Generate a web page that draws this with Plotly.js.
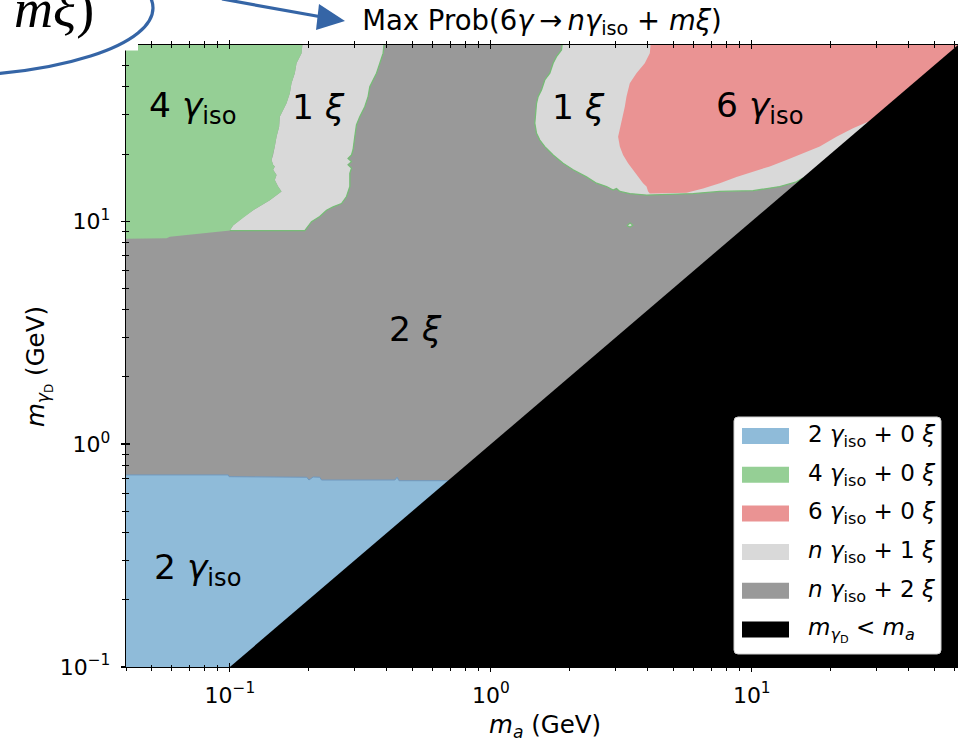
<!DOCTYPE html>
<html>
<head>
<meta charset="utf-8">
<script src="https://cdn.plot.ly/plotly-3.0.1.min.js"></script>
<style>
  html, body { margin: 0; padding: 0; background: #ffffff; }
  #chart { width: 958px; height: 741px; }
</style>
</head>
<body>
<div id="chart"></div>
<script>
// Phase map of the most probable outcome of 6γ → nγ_iso + mξ
// in the (m_a, m_γD) plane, both in GeV.

// Category names and fill colours
const categories = ["2γiso+0ξ", "4γiso+0ξ", "6γiso+0ξ", "nγiso+1ξ", "nγiso+2ξ", "mγD<ma"];
const legendLabels = [
  "2 <i>γ</i><sub>iso</sub> + 0 <i>ξ</i>",
  "4 <i>γ</i><sub>iso</sub> + 0 <i>ξ</i>",
  "6 <i>γ</i><sub>iso</sub> + 0 <i>ξ</i>",
  "<i>n</i> <i>γ</i><sub>iso</sub> + 1 <i>ξ</i>",
  "<i>n</i> <i>γ</i><sub>iso</sub> + 2 <i>ξ</i>",
  "<i>m</i><sub><i>γ</i><sub>D</sub></sub> &lt; <i>m</i><sub><i>a</i></sub>"
];
const fillColors = ["#8fbbd9", "#95cf95", "#ea9393", "#d9d9d9", "#999999", "#000000"];

// Axis ranges (GeV)
const maRange = [0.04, 61.7];
const mgRange = [0.1, 61.7];
const majorTicks = [0.1, 1, 10];
const majorTickText = ["10<sup>−1</sup>", "10<sup>0</sup>", "10<sup>1</sup>"];

// Whole upper half-plane background: n γiso + 2 ξ
const bgX = [0.03, 80, 80, 0.03];
const bgY = [0.09, 0.09, 80, 80];

// Upper edge of the 2 γiso region (left to right), closed below
const edge2gX = [0.03, 0.0985, 0.0994, 0.197, 0.201, 0.2085, 0.221, 0.2245, 0.429, 0.4375, 0.445, 1.0, 1.0, 0.03];
const edge2gY = [0.727, 0.727, 0.714, 0.710, 0.690, 0.712, 0.710, 0.690, 0.690, 0.710, 0.685, 0.685, 0.09, 0.09];

// Edge between 4 γiso and the left 1 ξ band (top to bottom)
const edge4gX = [0.1938, 0.1883, 0.1801, 0.1774, 0.1723, 0.1698, 0.1649, 0.1578, 0.1554, 0.1545, 0.1510, 0.1487, 0.1465, 0.1445, 0.1465, 0.1487, 0.1465, 0.1510, 0.1487, 0.1531, 0.1578, 0.1423, 0.1229, 0.1125, 0.1029, 0.1000];
const edge4gY = [80, 56.7, 51.1, 46.1, 41.6, 37.5, 33.8, 30.5, 29.4, 26.5, 23.9, 21.6, 19.8, 18.8, 17.9, 17.6, 17.0, 16.1, 15.3, 14.3, 13.6, 12.4, 11.2, 10.4, 9.56, 9.07];
// Lower edge of 4 γiso (right to left)
const floor4gX = [0.0982, 0.0589, 0.0572, 0.03, 0.03];
const floor4gY = [9.06, 8.52, 8.38, 8.32, 80];

// Right edge of the left 1 ξ band (top to bottom)
const bandRX = [0.3984, 0.3867, 0.3756, 0.3648, 0.3540, 0.3438, 0.3387, 0.3289, 0.3147, 0.3056, 0.3011, 0.2966, 0.2925, 0.2838, 0.2925, 0.2838, 0.2925, 0.2883, 0.2883, 0.2800, 0.2679, 0.2487, 0.2347, 0.2212, 0.2056, 0.1938, 0.1000];
const bandRY = [80, 56.7, 51.1, 46.1, 43.0, 40.1, 36.2, 32.6, 29.4, 27.0, 23.9, 20.9, 19.8, 19.1, 18.5, 17.9, 17.3, 16.4, 14.3, 12.9, 12.0, 11.6, 11.2, 10.5, 9.95, 9.07, 9.07];

// Outer edge of the right 1 ξ region (top to the diagonal)
const outerX = [1.920, 1.866, 1.785, 1.733, 1.683, 1.610, 1.564, 1.518, 1.497, 1.487, 1.474, 1.497, 1.541, 1.610, 1.733, 1.892, 2.067, 2.326, 2.541, 2.776, 2.942, 3.031, 3.122, 3.409, 3.951, 4.852, 5.958, 7.540, 10.12, 12.80, 14.84, 15.7];
const outerY = [80, 58.6, 54.7, 51.1, 46.1, 43.0, 38.8, 36.2, 33.8, 30.5, 27.5, 24.8, 23.1, 21.6, 19.8, 18.2, 17.0, 15.8, 14.8, 14.3, 13.8, 14.0, 13.6, 13.3, 13.1, 13.2, 13.3, 13.6, 13.7, 14.3, 15.0, 15.6];

// Edge of the 6 γiso region (top, down its left side, along its bottom to the diagonal)
const edge6gX = [4.185, 4.067, 3.890, 3.615, 3.409, 3.311, 3.262, 3.168, 3.122, 3.075, 3.122, 3.213, 3.358, 3.509, 3.668, 3.832, 3.951, 4.007, 4.067, 4.852, 5.622, 6.508, 7.540, 8.737, 10.12, 11.72, 13.58, 15.73, 18.22, 21.11, 24.44, 27.9];
const edge6gY = [80, 56.7, 51.1, 46.1, 41.6, 36.2, 32.6, 28.4, 26.5, 23.9, 21.6, 19.8, 18.2, 17.0, 15.8, 14.8, 14.3, 13.6, 13.3, 13.3, 13.4, 14.0, 14.8, 15.8, 16.7, 17.6, 18.8, 20.2, 21.6, 23.9, 26.1, 27.9];

// Small isolated 1 ξ island
const islandX = [3.32, 3.42, 3.50, 3.42, 3.32];
const islandY = [9.55, 9.81, 9.60, 9.42, 9.55];

// Kinematically forbidden half-plane m_γD < m_a
const forbidX = [0.09, 80, 80];
const forbidY = [0.09, 80, 0.09];

// Region labels
const regionLabels = ["4 <i>γ</i><sub>iso</sub>", "1 <i>ξ</i>", "1 <i>ξ</i>", "6 <i>γ</i><sub>iso</sub>", "2 <i>ξ</i>", "2 <i>γ</i><sub>iso</sub>"];

// ---- drawing ----
const FONT = "DejaVu Sans, Verdana, sans-serif";
const outlineGreen = "rgb(118,188,118)";

function area(x, y, color, line) {
  return {
    type: "scatter", mode: "lines", x: x, y: y, fill: "toself",
    fillcolor: color, line: line || { width: 0, color: color },
    hoverinfo: "skip", showlegend: false
  };
}
function outline(x, y, color, w) {
  return {
    type: "scatter", mode: "lines", x: x, y: y,
    line: { width: w, color: color }, hoverinfo: "skip", showlegend: false
  };
}

const rev = a => a.slice().reverse();

const traces = [
  area(bgX, bgY, fillColors[4]),
  area(edge2gX, edge2gY, fillColors[0], { width: 1, color: "rgb(112,152,190)" }),
  area(bandRX.concat(rev(edge4gX)), bandRY.concat(rev(edge4gY)), fillColors[3]),
  area(edge4gX.concat(floor4gX), edge4gY.concat(floor4gY), fillColors[1]),
  area(outerX.concat([80, 80]), outerY.concat([15.6, 80]), fillColors[3]),
  area(edge6gX.concat([80, 80]), edge6gY.concat([27.9, 80]), fillColors[2]),
  outline(bandRX, bandRY, outlineGreen, 1.3),
  outline(outerX, outerY, outlineGreen, 1.3),
  area(islandX, islandY, fillColors[3], { width: 1.2, color: outlineGreen }),
  area(forbidX, forbidY, fillColors[5]),
  // carrier for the inward half of the tick marks
  { type: "scatter", mode: "markers", x: [], y: [], xaxis: "x2", yaxis: "y2", showlegend: false, hoverinfo: "skip" }
];

// minor tick positions at 2..9 × each decade
const minorTicks = [];
for (let e = -2; e <= 2; e++) for (let d = 2; d <= 9; d++) minorTicks.push(d * Math.pow(10, e));

// pixel helpers for page-level decorations (plot area: x 126..958, y 45..667)
const PL = 126, PW = 832, PB = 667, PH = 622;
const px = v => (v - PL) / PW;
const py = v => (PB - v) / PH;

function baseAxis(range) {
  return {
    type: "log", range: [Math.log10(range[0]), Math.log10(range[1])],
    showgrid: false, zeroline: false, automargin: false,
    tickmode: "array", tickvals: majorTicks, ticktext: majorTickText,
    tickcolor: "#000", tickwidth: 1.2,
    minor: { tickmode: "array", tickvals: minorTicks, tickcolor: "#000", tickwidth: 1, showgrid: false }
  };
}

const xaxis = Object.assign(baseAxis(maRange), {
  ticks: "outside", ticklen: 4, showline: true, linecolor: "#000", linewidth: 1.2, mirror: "allticks",
  tickfont: { family: FONT, size: 22, color: "#000" }, ticklabelstandoff: 4
});
xaxis.minor.ticks = "outside"; xaxis.minor.ticklen = 2.5;
const yaxis = Object.assign(baseAxis(mgRange), {
  ticks: "outside", ticklen: 4, showline: true, linecolor: "#000", linewidth: 1.2, mirror: "allticks",
  tickfont: { family: FONT, size: 22, color: "#000" }, ticklabelstandoff: 6
});
yaxis.minor.ticks = "outside"; yaxis.minor.ticklen = 2.5;

const xaxis2 = Object.assign(baseAxis(maRange), {
  overlaying: "x", anchor: "y2", side: "bottom", ticks: "inside", ticklen: 4,
  showticklabels: false, showline: false, mirror: "allticks"
});
xaxis2.minor.ticks = "inside"; xaxis2.minor.ticklen = 2.5;
const yaxis2 = Object.assign(baseAxis(mgRange), {
  overlaying: "y", anchor: "x2", side: "left", ticks: "inside", ticklen: 4,
  showticklabels: false, showline: false, mirror: "allticks"
});
yaxis2.minor.ticks = "inside"; yaxis2.minor.ticklen = 2.5;

// legend box drawn as shapes
function roundedRect(x0, y0, x1, y1, r) {
  const X = px, Y = py;
  return "M" + X(x0 + r) + "," + Y(y0) +
    " L" + X(x1 - r) + "," + Y(y0) + " Q" + X(x1) + "," + Y(y0) + " " + X(x1) + "," + Y(y0 + r) +
    " L" + X(x1) + "," + Y(y1 - r) + " Q" + X(x1) + "," + Y(y1) + " " + X(x1 - r) + "," + Y(y1) +
    " L" + X(x0 + r) + "," + Y(y1) + " Q" + X(x0) + "," + Y(y1) + " " + X(x0) + "," + Y(y1 - r) +
    " L" + X(x0) + "," + Y(y0 + r) + " Q" + X(x0) + "," + Y(y0) + " " + X(x0 + r) + "," + Y(y0) + " Z";
}

const accent = "#3565a6";
const shapes = [
  // white patch behind the callout in the corner
  { type: "rect", xref: "paper", yref: "paper", layer: "above",
    x0: px(-5), x1: px(138), y0: py(50.5), y1: py(-5), fillcolor: "#fff", line: { width: 0 } },
  // callout ellipse
  { type: "circle", xref: "paper", yref: "paper", layer: "above",
    x0: px(-273), x1: px(153), y0: py(76), y1: py(-60), line: { color: accent, width: 3.2 } },
  // callout arrow
  { type: "line", xref: "paper", yref: "paper", layer: "above",
    x0: px(222), y0: py(-1), x1: px(322), y1: py(17), line: { color: accent, width: 3.2 } },
  { type: "path", xref: "paper", yref: "paper", layer: "above",
    path: "M" + px(345) + "," + py(21) + " L" + px(319) + "," + py(4) + " L" + px(316) + "," + py(30) + " Z",
    fillcolor: accent, line: { width: 0 } },
  // legend frame
  { type: "path", xref: "paper", yref: "paper", layer: "above",
    path: roundedRect(734, 417, 941, 654, 4), fillcolor: "#fff", line: { color: "#d0d0d0", width: 1 } }
];

const annotations = [];
const rowY0 = 436, rowStep = 38.7;
categories.forEach((c, i) => {
  const yc = rowY0 + i * rowStep;
  shapes.push({ type: "rect", xref: "paper", yref: "paper", layer: "above",
    x0: px(742), x1: px(789), y0: py(yc + 8), y1: py(yc - 8),
    fillcolor: fillColors[i], line: { width: 0 } });
  annotations.push({ xref: "paper", yref: "paper", x: px(806), y: py(yc), xanchor: "left", yanchor: "middle",
    text: legendLabels[i], showarrow: false, font: { family: FONT, size: 23, color: "#000" } });
});

// region labels (pixel centres of the label boxes)
const labelPos = [[192, 107], [318, 107], [578, 107], [759, 107], [415, 329], [197, 569]];
regionLabels.forEach((t, i) => {
  annotations.push({ xref: "paper", yref: "paper", x: px(labelPos[i][0]), y: py(labelPos[i][1]),
    xanchor: "center", yanchor: "middle", text: t, showarrow: false,
    font: { family: FONT, size: 34.5, color: "#000" } });
});

// axis titles
annotations.push({ xref: "paper", yref: "paper", x: px(545), y: py(726), xanchor: "center", yanchor: "middle",
  text: "<i>m</i><sub><i>a</i></sub> (GeV)", showarrow: false, font: { family: FONT, size: 24.5, color: "#000" } });
annotations.push({ xref: "paper", yref: "paper", x: px(39), y: py(367), xanchor: "center", yanchor: "middle",
  textangle: -90, text: "<i>m</i><sub><i>γ</i><sub>D</sub></sub> (GeV)", showarrow: false,
  font: { family: FONT, size: 24.5, color: "#000" } });

// callout text
annotations.push({ xref: "paper", yref: "paper", x: px(12), y: py(9), xanchor: "left", yanchor: "middle",
  text: "<i>mξ</i>)", showarrow: false, font: { family: "Liberation Serif, DejaVu Serif, serif", size: 54, color: "#000" } });

const layout = {
  width: 958, height: 741,
  margin: { l: PL, r: 0, t: 45, b: 74, pad: 0 },
  paper_bgcolor: "#fff", plot_bgcolor: "#fff",
  showlegend: false,
  title: {
    text: "Max Prob(6<i>γ</i>\u2009→\u2009<i>nγ</i><sub>iso</sub> + <i>mξ</i>)",
    font: { family: FONT, size: 27.5, color: "#000" },
    x: 0.5, xref: "paper", xanchor: "center",
    y: 1 - 20 / 741, yref: "container", yanchor: "middle"
  },
  xaxis: xaxis, yaxis: yaxis, xaxis2: xaxis2, yaxis2: yaxis2,
  shapes: shapes, annotations: annotations
};

Plotly.newPlot("chart", traces, layout, { displayModeBar: false, staticPlot: true });
</script>
</body>
</html>
